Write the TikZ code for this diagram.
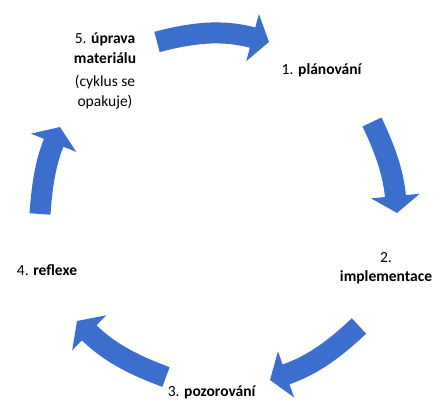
\documentclass[tikz,border=0pt]{standalone}
\usepackage{fontspec}
\setmainfont{Carlito}
\usepackage{tikz}
\usetikzlibrary{arrows.meta}
\definecolor{cycleblue}{RGB}{60,110,205}

\begin{document}
\begin{tikzpicture}[x=1pt,y=1pt,
  stage/.style={align=center,font=\fontsize{15.5}{19.5}\selectfont},
  cyc/.style={draw=cycleblue,line width=21pt,
    -{Triangle[width=48pt,length=17pt,fill=cycleblue]}}]
 \useasboundingbox (0,0) rectangle (438,403);
 \node[stage] (S5) at (105,332) {5. \textbf{úprava}\\ \textbf{materiálu}\\[4pt] (cyklus se\\ opakuje)};
 \node[stage] (S1) at (322,333) {1. \textbf{plánování}};
 \node[stage] (S2) at (386,135) {2.\\ \textbf{implementace}};
 \node[stage] (S3) at (212,11)  {3. \textbf{pozorování}};
 \node[stage] (S4) at (47,133)  {4. \textbf{reflexe}};
 \coordinate (A1) at (157,361);
 \coordinate (B1) at (269,361);
 \coordinate (A2) at (372,281);
 \coordinate (B2) at (397,190);
 \coordinate (A3) at (359,77);
 \coordinate (B3) at (270,23);
 \coordinate (A4) at (166,26);
 \coordinate (B4) at (77,82);
 \coordinate (A5) at (40,189);
 \coordinate (B5) at (60,276);
 \draw[cyc] (A1) to[bend left=15] (B1);
 \draw[cyc] (A2) to[bend left=10] (B2);
 \draw[cyc] (A3) to[bend left=12] (B3);
 \draw[cyc] (A4) to[bend left=12] (B4);
 \draw[cyc] (A5) to[bend left=9] (B5);
\end{tikzpicture}
\end{document}
